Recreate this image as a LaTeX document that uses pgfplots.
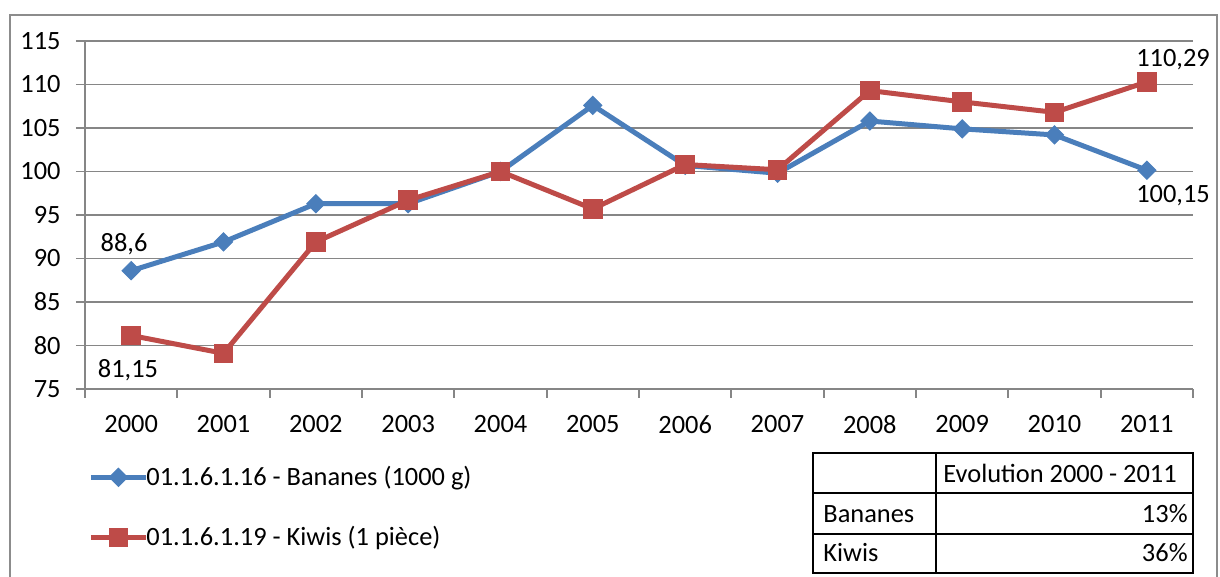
\documentclass[border=0pt]{standalone}
\usepackage{fontspec}
\setmainfont{Carlito}
\usepackage{pgfplots}
\pgfplotsset{compat=1.18}
\definecolor{cblue}{HTML}{4A7EBB}
\definecolor{cred}{HTML}{BE4B48}
\definecolor{cgrid}{HTML}{868686}
\definecolor{cborder}{HTML}{8C8C8C}

\pgfplotstableread{
x y
0 88.6
1 91.9
2 96.3
3 96.3
4 100.0
5 107.6
6 100.7
7 99.8
8 105.8
9 104.9
10 104.2
11 100.15
}\bananes

\pgfplotstableread{
x y
0 81.15
1 79.1
2 91.9
3 96.7
4 100.0
5 95.7
6 100.8
7 100.2
8 109.3
9 108.0
10 106.8
11 110.29
}\kiwis

\begin{document}
\fontsize{13.2}{15}\selectfont
\begin{tikzpicture}[font=\fontsize{13.2}{15}\selectfont]
\clip (0,0) rectangle (610pt,288.5pt);
\begin{axis}[
  at={(42.5pt,94pt)}, anchor=south west,
  width=554pt, height=174pt, scale only axis,
  xmin=-0.5, xmax=11.5, ymin=75, ymax=115,
  ytick={75,80,85,90,95,100,105,110,115},
  xtick={-0.5,0.5,1.5,2.5,3.5,4.5,5.5,6.5,7.5,8.5,9.5,10.5,11.5},
  xticklabels={2000,2001,2002,2003,2004,2005,2006,2007,2008,2009,2010,2011,{}},
  xticklabel style={xshift=23.083pt, anchor=north, inner sep=0pt, yshift=-8.5pt},
  yticklabel style={anchor=east, inner sep=0pt, xshift=-7.5pt},
  axis x line*=bottom, axis y line*=left,
  axis line style={cgrid, line width=0.9pt},
  ymajorgrids, grid style={cgrid, line width=0.9pt},
  tick align=outside, major tick length=4.5pt,
  tick style={cgrid, line width=0.9pt},
  /pgf/number format/assume math mode=true,
  clip=false,
  legend style={draw=none, fill=none, inner sep=0pt,
    at={(axis description cs:0.0027,-0.3405)}, anchor=west,
    row sep=18.5pt, column sep=-1pt, nodes={inner sep=0pt},
    font=\fontsize{13.2}{15}\selectfont},
  legend cell align=left,
  legend image code/.code={\draw[mark repeat=2,mark phase=2] plot coordinates {(0pt,0pt)(13.75pt,0pt)(27.5pt,0pt)};},
]
\addplot[cblue, line width=2.5pt, mark=square*, mark size=3.2pt,
  mark options={rotate=45, solid, fill=cblue, line width=0.5pt}] table[x=x,y=y] {\bananes};
\addlegendentry{01.1.6.1.16 - Bananes (1000 g)}
\addplot[cred, line width=2.5pt, mark=square*, mark size=4.6pt,
  mark options={solid, fill=cred, line width=0.6pt}] table[x=x,y=y] {\kiwis};
\addlegendentry{01.1.6.1.19 - Kiwis (1 pièce)}
\end{axis}
\begin{scope}[x=0.5pt,y=-0.5pt,shift={(0pt,288.5pt)}]
  % outer border
  \draw[cborder, line width=1pt] (10,15) rectangle (1217,620);
  % data labels
  \node[anchor=base, inner sep=0pt] at (124,252) {88,6};
  \node[anchor=base, inner sep=0pt] at (128,378) {81,15};
  \node[anchor=base, inner sep=0pt] at (1173,67) {110,29};
  \node[anchor=base, inner sep=0pt] at (1173,203) {100,15};
  % table
  \draw[black, line width=1pt] (813,453) rectangle (1193,573);
  \draw[black, line width=1pt] (813,493) -- (1193,493);
  \draw[black, line width=1pt] (813,534) -- (1193,534);
  \draw[black, line width=1pt] (936,453) -- (936,573);
  \node[anchor=base west, inner sep=0pt] at (943,483) {Evolution 2000 - 2011};
  \node[anchor=base west, inner sep=0pt] at (823,523) {Bananes};
  \node[anchor=base west, inner sep=0pt] at (823,562) {Kiwis};
  \node[anchor=base east, inner sep=0pt] at (1188,523) {13\%};
  \node[anchor=base east, inner sep=0pt] at (1188,562) {36\%};
\end{scope}
\end{tikzpicture}
\end{document}
